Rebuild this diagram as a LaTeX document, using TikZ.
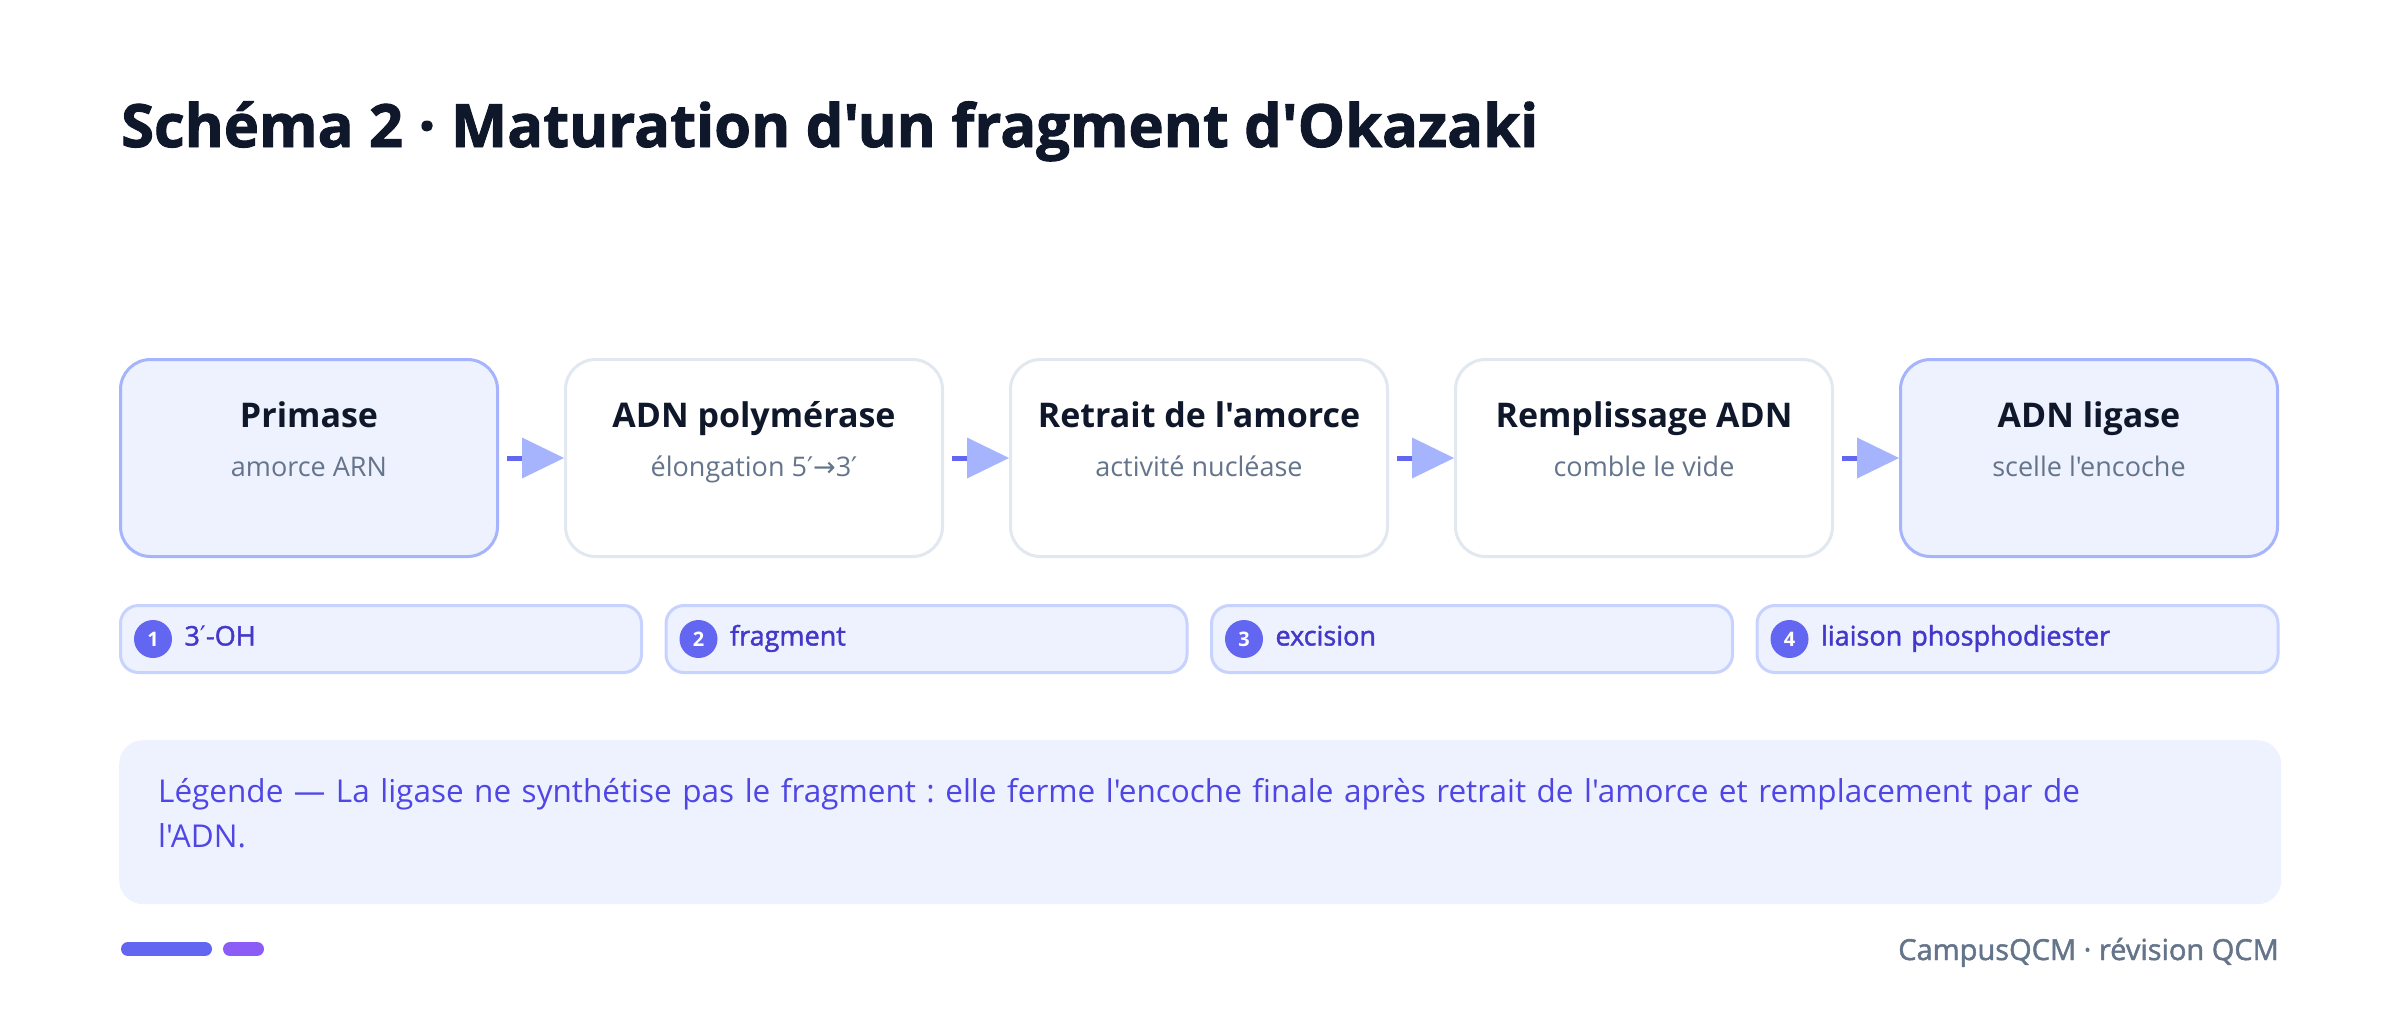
\documentclass[tikz,border=0pt]{standalone}
\usepackage{fontspec}
\newfontfamily\opensans{Open Sans}
\newfontfamily\heavysans[BoldFeatures={FakeBold=1.6}]{Open Sans}
\newfontfamily\semisans[FakeBold=1.6]{Open Sans}
\newfontfamily\symsans{DejaVu Sans}
\usetikzlibrary{arrows.meta,positioning}

\definecolor{ink}{HTML}{0F172A}
\definecolor{muted}{HTML}{64748B}
\definecolor{indigo50}{HTML}{EEF2FF}
\definecolor{indigo200}{HTML}{C7D2FE}
\definecolor{indigo300}{HTML}{A5B4FC}
\definecolor{indigo500}{HTML}{6366F1}
\definecolor{indigo600}{HTML}{4F46E5}
\definecolor{indigo700}{HTML}{4338CA}
\definecolor{violet500}{HTML}{8B5CF6}
\definecolor{slate200}{HTML}{E2E8F0}

\newcommand{\stepbody}[2]{%
  {\fontsize{34}{40}\selectfont\bfseries\spaceskip=\fontdimen2\font\relax\color{ink}#1\par}%
  {\fontsize{27}{49}\selectfont\spaceskip=\fontdimen2\font\relax\color{muted}#2\par}}

\tikzset{
  heading/.style = {inner sep=0pt, text=ink, font=\heavysans\fontsize{59.6}{70}\selectfont\bfseries},
  basic/.style   = {draw, line width=3pt, rounded corners=30pt, text width=377pt,
                    inner xsep=0pt, inner ysep=0pt, align=center,
                    text height=68pt, text depth=129pt, font=\opensans},
  keystep/.style = {basic, draw=indigo300, fill=indigo50},
  midstep/.style = {basic, draw=slate200, fill=white},
  chip/.style    = {draw=indigo200, fill=indigo50, line width=3pt, rounded corners=18pt,
                    text width=393pt, inner xsep=64pt, inner ysep=0pt, align=left,
                    text height=40pt, text depth=27pt, text=indigo700,
                    font=\semisans\fontsize{27}{32}\selectfont},
  badge/.style   = {circle, fill=indigo500, text=white, minimum size=38pt, inner sep=0pt,
                    font=\opensans\fontsize{20}{20}\selectfont\bfseries},
  legend/.style  = {fill=indigo50, rounded corners=24pt, text width=2084pt,
                    inner xsep=39pt, inner ysep=0pt, align=left,
                    text height=62pt, text depth=102pt, text=indigo600,
                    font=\opensans\fontsize{31.5}{45}\selectfont},
  footer/.style  = {inner sep=0pt, text=muted, font=\semisans\fontsize{29}{34}\selectfont},
  flow/.style    = {line width=5pt, draw=indigo500, shorten <=8pt,
                    -{Triangle[length=42pt,width=41pt,color=indigo300,line width=0pt]}},
  bar/.style     = {line width=14pt, line cap=round}
}

\begin{document}
\frenchspacing
\begin{tikzpicture}[x=1pt, y=-1pt]

\useasboundingbox[fill=white] (0,0) rectangle (2400,1010);

% title
\node[heading, anchor=base west] (title) at (121,147)
  {Schéma 2 · Maturation d'un fragment d'Okazaki};

% the five steps, each placed right of the one before
\node[keystep, anchor=north west] (p1) at (119,358) {\stepbody{Primase}{amorce ARN}};
\node[midstep, right=65pt of p1] (p2) {\stepbody{ADN polymérase}{élongation 5{\symsans ′→}3{\symsans ′}}};
\node[midstep, right=65pt of p2] (p3) {\stepbody{Retrait de l'amorce}{activité nucléase}};
\node[midstep, right=65pt of p3] (p4) {\stepbody{Remplissage ADN}{comble le vide}};
\node[keystep, right=65pt of p4] (p5) {\stepbody{ADN ligase}{scelle l'encoche}};

\draw[flow] (p1) -- (p2);
\draw[flow] (p2) -- (p3);
\draw[flow] (p3) -- (p4);
\draw[flow] (p4) -- (p5);

% numbered chips
\node[chip, anchor=north west] (c1) at (119,604) {3{\symsans ′}-OH};
\node[chip, right=21.5pt of c1] (c2) {fragment};
\node[chip, right=21.5pt of c2] (c3) {excision};
\node[chip, right=21.5pt of c3] (c4) {liaison phosphodiester};

\node[badge] (b1) at ([xshift=34pt]c1.west) {1};
\node[badge] (b2) at ([xshift=34pt]c2.west) {2};
\node[badge] (b3) at ([xshift=34pt]c3.west) {3};
\node[badge] (b4) at ([xshift=34pt]c4.west) {4};

% legend
\node[legend, anchor=north west] (key) at (119,740)
  {Légende — La ligase ne synthétise pas le fragment : elle ferme l'encoche finale après retrait de l'amorce et remplacement par de\\l'ADN.};

% footer
\draw[bar, indigo500] (128,949) -- (205,949);
\draw[bar, violet500] (230,949) -- (257,949);
\node[footer, anchor=base east] (brand) at (2279,960) {CampusQCM · révision QCM};

\end{tikzpicture}
\end{document}
